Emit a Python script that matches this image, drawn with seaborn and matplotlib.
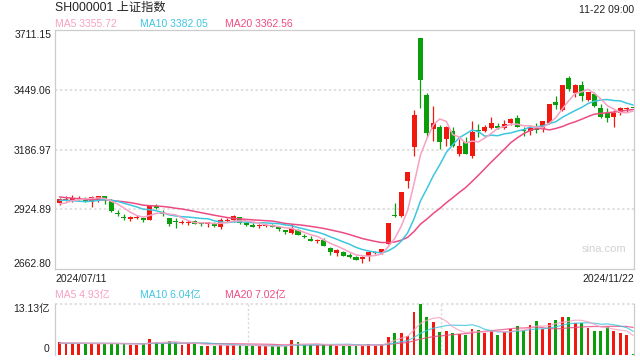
import numpy as np
import pandas as pd
import matplotlib
matplotlib.use("Agg")
import matplotlib.pyplot as plt
import seaborn as sns

# ---------------- data ----------------
title_text = "SH000001 上证指数"
time_text = "11-22 09:00"
start_label = "2024/07/11"
end_label = "2024/11/22"
price_ticks = [2662.80, 2924.89, 3186.97, 3449.06, 3711.15]
vol_max = 13.13

open_ = [2950.5, 2962.8, 2966.3, 2970.0, 2975.0, 2958.0, 2964.0, 2982.0, 2964.0, 2906.0,
         2893.0, 2883.0, 2888.0, 2886.0, 2879.0, 2940.0, 2911.0, 2888.0, 2872.0, 2865.0,
         2866.0, 2875.0, 2862.0, 2858.0, 2865.0, 2846.0, 2874.0, 2876.0, 2889.0, 2863.0,
         2856.0, 2850.0, 2853.0, 2855.0, 2845.0, 2833.0, 2820.0, 2834.0, 2809.0, 2795.0,
         2785.0, 2790.0, 2755.0, 2734.0, 2738.0, 2724.0, 2716.0, 2705.0, 2718.0, 2733.0,
         2735.0, 2770.75, 2901.42, 2893.87, 3049.0, 3197.0, 3674.40, 3426.0, 3278.0, 3287.0,
         3235.0, 3268.0, 3168.0, 3218.0, 3158.0, 3272.0, 3266.0, 3282.0, 3290.0, 3282.0,
         3303.0, 3323.0, 3270.0, 3270.0, 3275.0, 3275.0, 3305.0, 3397.0, 3362.0, 3499.0,
         3433.0, 3470.0, 3404.0, 3430.0, 3367.0, 3345.0, 3328.0, 3345.0, 3364.0, 3370.40]
high = [2974.9, 2982.6, 2986.0, 2984.0, 2980.0, 2983.0, 2985.0, 2985.0, 2970.0, 2920.0,
        2905.0, 2897.0, 2898.0, 2893.0, 2940.0, 2946.0, 2920.0, 2888.0, 2885.0, 2876.0,
        2878.0, 2878.0, 2870.0, 2866.0, 2870.0, 2886.0, 2886.0, 2900.0, 2893.0, 2868.0,
        2863.0, 2860.0, 2862.0, 2860.0, 2850.0, 2836.0, 2862.0, 2840.0, 2816.0, 2806.0,
        2796.0, 2798.0, 2758.0, 2750.0, 2742.0, 2731.0, 2722.0, 2720.0, 2741.0, 2742.0,
        2752.0, 2863.13, 2952.45, 3000.95, 3087.53, 3358.59, 3674.40, 3436.0, 3378.0, 3294.0,
        3290.0, 3284.0, 3231.0, 3240.0, 3312.0, 3298.0, 3294.0, 3328.0, 3304.0, 3316.0,
        3325.0, 3338.0, 3287.0, 3291.0, 3302.0, 3311.0, 3387.0, 3421.0, 3470.66, 3510.0,
        3473.0, 3489.0, 3441.0, 3441.0, 3386.0, 3368.0, 3360.0, 3372.0, 3375.0, 3370.40]
low = [2942.4, 2960.0, 2955.9, 2964.0, 2955.0, 2935.0, 2955.0, 2950.0, 2913.0, 2894.0,
       2878.0, 2875.0, 2883.0, 2870.0, 2876.0, 2925.0, 2896.0, 2853.0, 2843.0, 2860.0,
       2855.0, 2861.0, 2850.0, 2849.0, 2849.0, 2838.0, 2868.0, 2870.0, 2858.0, 2850.0,
       2847.0, 2841.0, 2845.0, 2845.0, 2830.0, 2815.0, 2818.0, 2810.0, 2797.0, 2784.0,
       2775.0, 2765.0, 2725.0, 2718.0, 2720.0, 2713.0, 2703.0, 2689.0, 2697.0, 2727.0,
       2730.0, 2770.75, 2889.05, 2889.18, 3017.22, 3158.0, 3370.0, 3243.0, 3226.0, 3188.0,
       3203.0, 3196.0, 3160.0, 3167.0, 3150.0, 3240.0, 3264.0, 3279.0, 3276.0, 3276.0,
       3294.0, 3284.0, 3246.0, 3251.0, 3258.0, 3265.0, 3300.0, 3363.0, 3356.0, 3443.0,
       3419.0, 3401.0, 3401.0, 3372.0, 3325.0, 3309.0, 3284.0, 3338.0, 3352.0, 3370.35]
close = [2970.39, 2971.30, 2974.01, 2976.30, 2962.71, 2977.13, 2982.31, 2964.22, 2915.37, 2901.95,
         2886.74, 2890.90, 2891.85, 2879.30, 2938.75, 2932.39, 2905.34, 2860.70, 2867.28, 2869.90,
         2869.83, 2862.19, 2858.20, 2867.95, 2850.65, 2877.36, 2879.43, 2893.67, 2866.66, 2856.58,
         2848.77, 2854.37, 2855.52, 2848.32, 2837.43, 2823.11, 2842.21, 2811.04, 2802.98, 2784.28,
         2788.31, 2765.81, 2736.49, 2744.19, 2721.80, 2717.12, 2704.09, 2717.28, 2736.02, 2736.81,
         2748.92, 2863.13, 2896.31, 3000.95, 3087.53, 3336.50, 3489.78, 3258.86, 3301.93, 3217.74,
         3284.32, 3201.29, 3202.95, 3169.38, 3261.56, 3268.11, 3285.87, 3302.80, 3280.26, 3299.70,
         3322.20, 3286.41, 3266.24, 3279.82, 3272.01, 3310.21, 3386.99, 3383.81, 3470.66, 3452.30,
         3470.07, 3421.97, 3439.28, 3379.84, 3330.73, 3323.85, 3346.01, 3367.99, 3370.40, 3370.35]
volume = [3.36, 2.90, 2.80, 2.80, 2.75, 2.90, 2.85, 2.70, 2.90, 2.80,
          2.75, 2.60, 2.60, 2.70, 4.05, 3.36, 2.84, 3.53, 3.10, 2.58,
          2.93, 2.84, 2.30, 2.20, 2.25, 2.60, 2.45, 2.50, 2.45, 2.20,
          2.25, 2.15, 2.20, 2.15, 2.10, 2.20, 3.70, 3.30, 2.35, 2.45,
          2.40, 2.75, 2.75, 2.31, 2.31, 2.31, 2.31, 2.31, 2.83, 2.31,
          2.75, 4.66, 5.71, 5.71, 4.84, 10.94, 13.13, 9.81, 8.33, 5.89,
          6.24, 5.71, 5.36, 5.19, 6.76, 6.41, 5.71, 6.24, 5.19, 5.89,
          6.76, 7.42, 6.41, 7.80, 8.60, 6.58, 8.30, 8.85, 9.64, 9.64,
          8.15, 8.20, 6.92, 6.24, 6.24, 7.28, 6.24, 5.71, 5.19, 0.25]
# closes / volumes of the 19 sessions before the first visible one (for moving averages)
prior_close = [3032.63, 3015.89, 3030.25, 3018.05, 3008.00, 2998.14, 2963.10, 2950.00, 2972.53, 2945.85,
               2967.40, 2994.73, 2997.01, 2982.38, 2957.57, 2949.93, 2922.45, 2959.37, 2939.36]
prior_volume = [2.9, 3.0, 2.8, 2.9, 3.1, 2.8, 3.2, 3.0, 2.9, 3.1,
                2.9, 2.8, 3.0, 2.9, 2.8, 2.7, 2.8, 2.9, 3.0]

# ---------------- style ----------------
RED = "#f0180f"
GREEN = "#0a9f0a"
C5 = "#f7a1c4"
C10 = "#3ec6e0"
C20 = "#ec4b83"
TXT = "#222222"
GRID = "#d9d9d9"
BORDER = "#cccccc"

sns.set_theme(style="white")
plt.rcParams['font.family'] = ['Liberation Sans', 'Noto Sans CJK SC', 'DejaVu Sans']

W, H = 640, 360
fig = plt.figure(figsize=(6.4, 3.6), dpi=100)
fig.patch.set_facecolor("white")


def fx(px):
    return px / W


def fy(py):
    return 1 - py / H


L, R = 55, 634
ax = fig.add_axes([fx(L), fy(269), fx(R) - fx(L), fy(30) - fy(269)])
axv = fig.add_axes([fx(L), fy(354.5), fx(R) - fx(L), fy(304) - fy(354.5)])

n = len(close)
x = np.arange(n)
o = np.array(open_)
c = np.array(close)
hi = np.array(high)
lo = np.array(low)
vol = np.array(volume)
colors = np.where(c >= o, RED, GREEN)

# moving averages
full_close = pd.Series(prior_close + close)
full_vol = pd.Series(prior_volume + volume)
ma = {k: full_close.rolling(k).mean().to_numpy()[-n:] for k in (5, 10, 20)}
vma = {k: full_vol.rolling(k).mean().to_numpy()[-n:] for k in (5, 10, 20)}

xmin, xmax = -0.70, 89.13

# ---------------- price panel ----------------
for v in price_ticks[1:-1]:
    ax.axhline(v, color=GRID, lw=1.1, ls=(0, (1.6, 1.6)), zorder=0)
ax.vlines(x, lo, hi, colors=colors, linewidth=0.9, zorder=2)
ax.bar(x, np.maximum(np.abs(c - o), 4.5), bottom=np.minimum(o, c), width=0.78,
       color=colors, linewidth=0, zorder=3)
for k, col in ((20, C20), (10, C10), (5, C5)):
    sns.lineplot(x=x, y=ma[k], ax=ax, color=col, linewidth=1.1, zorder=4)

ax.set_xlim(xmin, xmax)
ax.set_ylim(price_ticks[0], price_ticks[-1])
ax.set_xticks([])
ax.set_yticks(price_ticks)
ax.set_yticklabels([f"{v:.2f}" for v in price_ticks])
ax.tick_params(axis="y", length=0, pad=2.5, labelsize=7.5, labelcolor=TXT)
ylabels = ax.get_yticklabels()
ylabels[0].set_va("bottom")
ylabels[-1].set_va("top")
for s in ax.spines.values():
    s.set_color(BORDER)
    s.set_linewidth(0.9)

# ---------------- volume panel ----------------
axv.bar(x, vol, width=0.45, color=colors, linewidth=0, zorder=2)
for k, col in ((20, C20), (10, C10), (5, C5)):
    sns.lineplot(x=x, y=vma[k], ax=axv, color=col, linewidth=0.9, alpha=0.8, zorder=3)
axv.set_xlim(xmin, xmax)
axv.set_ylim(0, vol_max)
axv.axhline(vol_max, color=GRID, lw=1.1, ls=(0, (1.6, 1.6)), zorder=0, clip_on=False)
for frac in (1 / 3, 2 / 3):
    axv.axvline(xmin + (xmax - xmin) * frac, color=GRID, lw=1.0, ls=(0, (1.6, 1.6)), zorder=0)
axv.set_xticks([])
axv.set_yticks([0, vol_max])
axv.set_yticklabels(["0", f"{vol_max:.2f}亿"])
axv.tick_params(axis="y", length=0, pad=4, labelsize=7.5, labelcolor=TXT)
vl = axv.get_yticklabels()
vl[0].set_va("bottom")
vl[-1].set_va("top")
for side in ("top", "bottom"):
    axv.spines[side].set_visible(False)
for side in ("left", "right"):
    axv.spines[side].set_color(BORDER)
    axv.spines[side].set_linewidth(0.9)

# ---------------- texts ----------------
fig.text(fx(55), fy(8), title_text, fontsize=8.8, color=TXT, va="center", ha="left")
fig.text(fx(634.5), fy(10), time_text, fontsize=7.5, color=TXT, va="center", ha="right")
fig.text(fx(55), fy(24), f"MA5 {ma[5][-1]:.2f}", fontsize=7.5, color=C5, va="center")
fig.text(fx(140), fy(24), f"MA10 {ma[10][-1]:.2f}", fontsize=7.5, color=C10, va="center")
fig.text(fx(225), fy(24), f"MA20 {ma[20][-1]:.2f}", fontsize=7.5, color=C20, va="center")
fig.text(fx(55), fy(278.5), start_label, fontsize=7.5, color=TXT, va="center", ha="left")
fig.text(fx(634.5), fy(278.5), end_label, fontsize=7.5, color=TXT, va="center", ha="right")
fig.text(fx(55), fy(295), f"MA5 {vma[5][-1]:.2f}亿", fontsize=7.5, color=C5, va="center")
fig.text(fx(140), fy(295), f"MA10 {vma[10][-1]:.2f}亿", fontsize=7.5, color=C10, va="center")
fig.text(fx(225), fy(295), f"MA20 {vma[20][-1]:.2f}亿", fontsize=7.5, color=C20, va="center")
fig.text(fx(582), fy(249.5), "sina.com", fontsize=8, color="#d2d2d2", va="center", ha="left")

fig.savefig("out.png", dpi=100, facecolor="white")
